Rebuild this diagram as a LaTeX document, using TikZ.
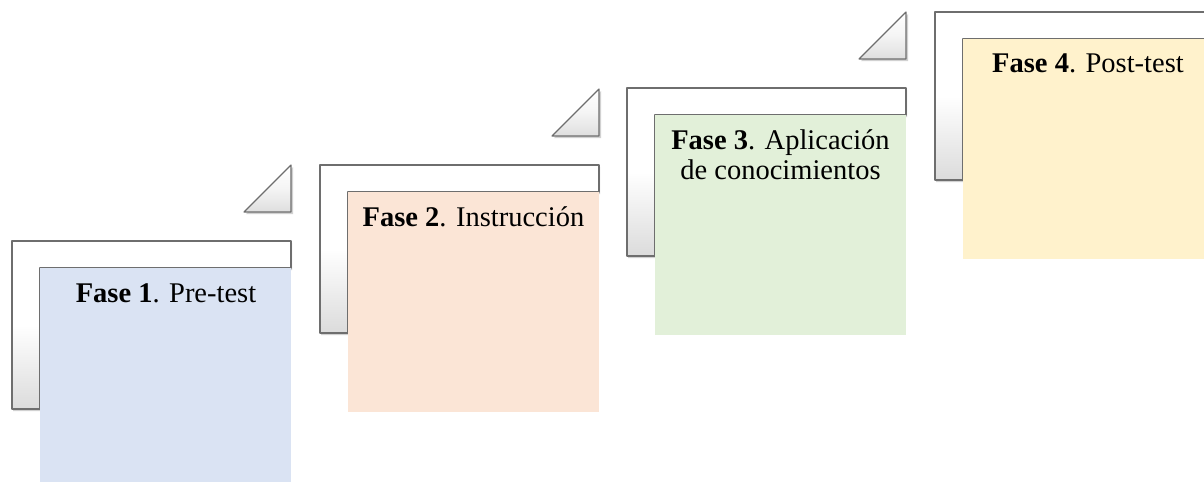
\documentclass[tikz,border=0pt]{standalone}
\usepackage{fontspec}
\setmainfont{Liberation Serif}
\definecolor{fillA}{HTML}{DAE3F3}
\definecolor{fillB}{HTML}{FBE5D6}
\definecolor{fillC}{HTML}{E2F0D9}
\definecolor{fillD}{HTML}{FFF2CC}
\definecolor{edgegray}{HTML}{6E6E6E}
\tikzset{
  lshape/.style={draw=edgegray, line width=1.1pt, line join=round, top color=white, bottom color=black!14, middle color=white},
  tri/.style={draw=edgegray, line width=1.1pt, line join=round, top color=white, bottom color=black!13, middle color=white!96!black},
  shad/.style={fill=black, opacity=0.18},
  phase/.style={inner sep=0pt, anchor=base, align=center, font=\fontsize{28.5}{30}\selectfont},
}
\begin{document}
\begin{tikzpicture}[x=1pt,y=-1pt]
\clip (0,0) rectangle (1204,482);
\fill[white] (0,0) rectangle (1204,482);
\foreach \ox/\oy/\col in {12/241/fillA, 320/165/fillB, 627/88/fillC, 935/12/fillD}{
  \pgfmathsetmacro{\ix}{\ox+28}
  \pgfmathsetmacro{\rx}{\ox+279}
  \pgfmathsetmacro{\by}{\oy+27}
  \pgfmathsetmacro{\ly}{\oy+168}
  \pgfmathsetmacro{\bh}{\oy+27+\ifnum\ox=12 214\else 220\fi}
  \pgfmathsetmacro{\tx}{\rx-47}
  \pgfmathsetmacro{\tyb}{\oy-29}
  \pgfmathsetmacro{\tyt}{\oy-76}
  \fill[shad] (\tx+2,\tyb+2) -- (\rx+2,\tyb+2) -- (\rx+2,\tyt+2) -- cycle;
  \path[tri] (\tx,\tyb) -- (\rx,\tyb) -- (\rx,\tyt) -- cycle;
  \fill[shad] (\ox+1,\ly+2) -- (\ox+1,\oy+2) -- (\rx+1,\oy+2) -- (\rx+1,\by+2) -- (\ix+1,\by+2) -- (\ix+1,\ly+2) -- cycle;
  \path[lshape] (\ox,\ly) -- (\ox,\oy) -- (\rx,\oy) -- (\rx,\by) -- (\ix,\by) -- (\ix,\ly) -- cycle;
  \fill[\col] (\ix,\by) rectangle (\rx,\bh);
}
\node[phase] (t1) at (166,302) {\textbf{Fase 1}. Pre-test};
\node[phase] (t2) at (473.5,226) {\textbf{Fase 2}. Instrucción};
\node[phase] (t3a) at (780.5,149) {\textbf{Fase 3}. Aplicación};
\node[phase] (t3b) at (780.5,179) {de conocimientos};
\node[phase] (t4) at (1088,72) {\textbf{Fase 4}. Post-test};
\end{tikzpicture}
\end{document}
